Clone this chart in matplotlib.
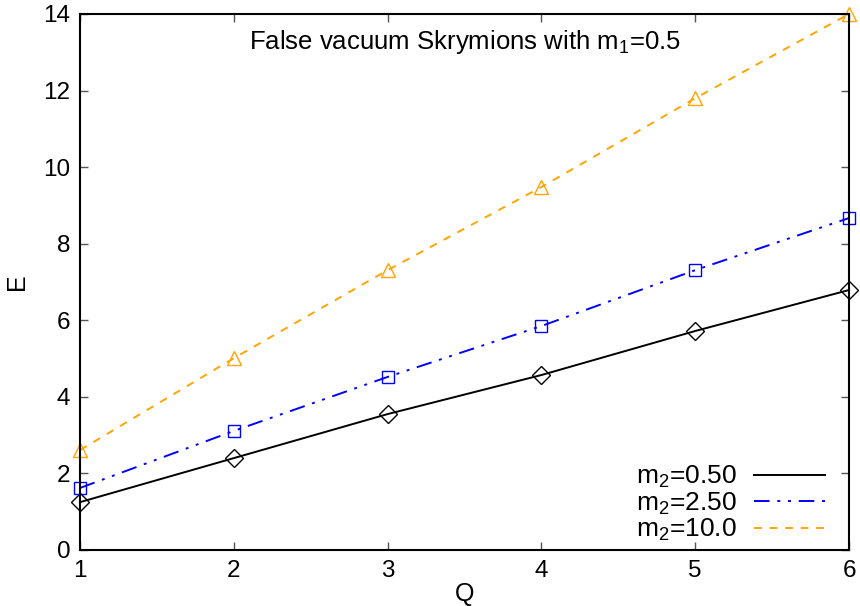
import matplotlib
matplotlib.use("Agg")
import matplotlib.pyplot as plt

plt.rcParams['font.family'] = ['Liberation Sans', 'DejaVu Sans']
plt.rcParams['mathtext.fontset'] = 'custom'
plt.rcParams['mathtext.rm'] = 'Liberation Sans'
plt.rcParams['mathtext.it'] = 'Liberation Sans'

Q = [1, 2, 3, 4, 5, 6]
E_m050 = [1.25, 2.40, 3.55, 4.57, 5.72, 6.79]
E_m250 = [1.62, 3.11, 4.52, 5.85, 7.31, 8.67]
E_m100 = [2.61, 5.01, 7.31, 9.48, 11.80, 14.0]
labels = [r'm$_2$=0.50', r'm$_2$=2.50', r'm$_2$=10.0']
title = r'False vacuum Skrymions with m$_1$=0.5'

fig = plt.figure(figsize=(8.6, 6.06), dpi=100)
ax = fig.add_axes([80/860, 56/606, 769/860, 536/606])

ax.plot(Q, E_m050, color='black', lw=1.4, marker='D', ms=9, mfc='none', mec='black', mew=1.0,
        label=labels[0], clip_on=False)
ax.plot(Q, E_m250, color='blue', lw=1.4, dashes=(8, 4, 1.5, 4, 1.5, 4), marker='s', ms=9, mfc='none',
        mec='blue', mew=1.0, label=labels[1], clip_on=False)
ax.plot(Q, E_m100, color='orange', lw=1.4, dashes=(4, 4), marker='^', ms=10, mfc='none', mec='orange',
        mew=1.0, label=labels[2], clip_on=False)

ax.set_xlim(1, 6)
ax.set_ylim(0, 14)
ax.set_xticks(Q)
ax.set_yticks(range(0, 15, 2))
ax.tick_params(direction='in', top=True, right=True, length=6, width=1, color='#555555',
               labelsize=17.5, pad=7)
for s in ax.spines.values():
    s.set_linewidth(1.5)
ax.set_xlabel('Q', fontsize=18, labelpad=0)
ax.set_ylabel('E', fontsize=18, labelpad=10)
ax.text(0.5, 0.947, title, transform=ax.transAxes, ha='center', va='center', fontsize=18.5)

leg = ax.legend(loc='lower right', bbox_to_anchor=(0.983, -0.0075), frameon=False, markerfirst=False,
                fontsize=19, handlelength=2.7, labelspacing=0.02, borderaxespad=0.0, handletextpad=0.65)
for h in leg.get_lines():
    h.set_marker('')

fig.savefig('out.png', dpi=100)
